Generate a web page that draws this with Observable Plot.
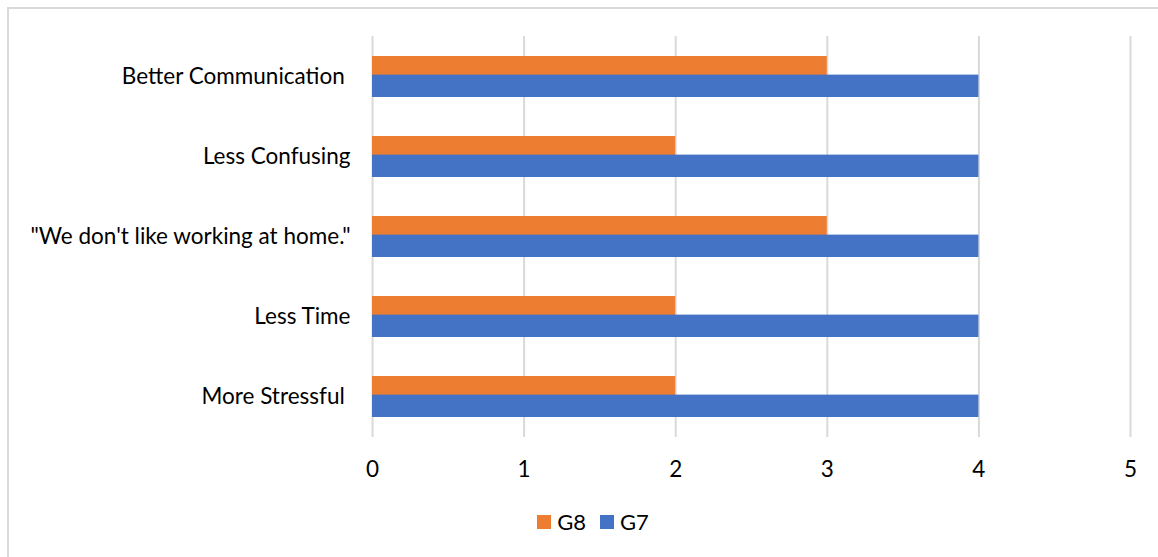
<!DOCTYPE html>
<html>
<head>
<meta charset="utf-8">
<script src="https://cdn.jsdelivr.net/npm/d3@7"></script>
<script src="https://cdn.jsdelivr.net/npm/@observablehq/plot@0.6"></script>
<style>
  html, body { margin: 0; padding: 0; background: #fff; overflow: hidden; }
  body { width: 1158px; height: 557px; position: relative; font-family: Lato, "Open Sans", sans-serif; }
  #frame { position: absolute; left: 7px; top: 7px; width: 1300px; height: 700px; border: 2px solid #d9d9d9; box-sizing: border-box; }
  #chart { position: absolute; left: 0; top: 0; }
  #legend { position: absolute; left: 0; top: 508px; width: 1158px; display: flex; justify-content: center; gap: 14px; font-size: 22px; color: #000; padding-left: 28px; box-sizing: border-box; }
  .item { display: flex; align-items: center; gap: 6px; }
  .sw { width: 14px; height: 14px; display: inline-block; }
</style>
</head>
<body>
<div id="frame"></div>
<div id="chart"></div>
<div id="legend"></div>
<script>
const categories = ["Better Communication ", "Less Confusing", "\"We don't like working at home.\"", "Less Time", "More Stressful "];
const seriesNames = ["G8", "G7"];
const g8Values = [3, 2, 3, 2, 2];
const g7Values = [4, 4, 4, 4, 4];
const xTicks = [0, 1, 2, 3, 4, 5];
const colors = {G8: "#ED7D31", G7: "#4472C4"};

const g8 = categories.map((c, i) => ({category: c, value: g8Values[i]}));
const g7 = categories.map((c, i) => ({category: c, value: g7Values[i]}));

const bandwidth = (437 - 36) / (5 + 0.49) * (1 - 0.49);
const half = bandwidth / 2;

const plot = Plot.plot({
  width: 1158,
  height: 490,
  marginLeft: 372,
  marginRight: 28,
  marginTop: 36,
  marginBottom: 53,
  style: {fontFamily: "Lato, 'Open Sans', sans-serif", fontSize: "22.5px", color: "#000", background: "transparent"},
  x: {domain: [0, 5], ticks: xTicks, tickFormat: "d", tickSize: 0, tickPadding: 24, label: null},
  y: {domain: categories, paddingInner: 0.49, paddingOuter: 0.245, tickSize: 0, tickPadding: 22, label: null,
      tickFormat: d => d.replace(/ $/, "\u00a0")},
  marks: [
    Plot.gridX(xTicks, {stroke: "#d9d9d9", strokeOpacity: 1, strokeWidth: 2}),
    Plot.barX(g8, {y: "category", x: "value", fill: colors.G8, insetBottom: half}),
    Plot.barX(g7, {y: "category", x: "value", fill: colors.G7, insetTop: half}),
  ]
});
document.getElementById("chart").appendChild(plot);

const legend = document.getElementById("legend");
for (const s of seriesNames) {
  const item = document.createElement("div");
  item.className = "item";
  const sw = document.createElement("span");
  sw.className = "sw";
  sw.style.background = colors[s];
  const t = document.createElement("span");
  t.textContent = s;
  item.appendChild(sw);
  item.appendChild(t);
  legend.appendChild(item);
}
</script>
</body>
</html>
